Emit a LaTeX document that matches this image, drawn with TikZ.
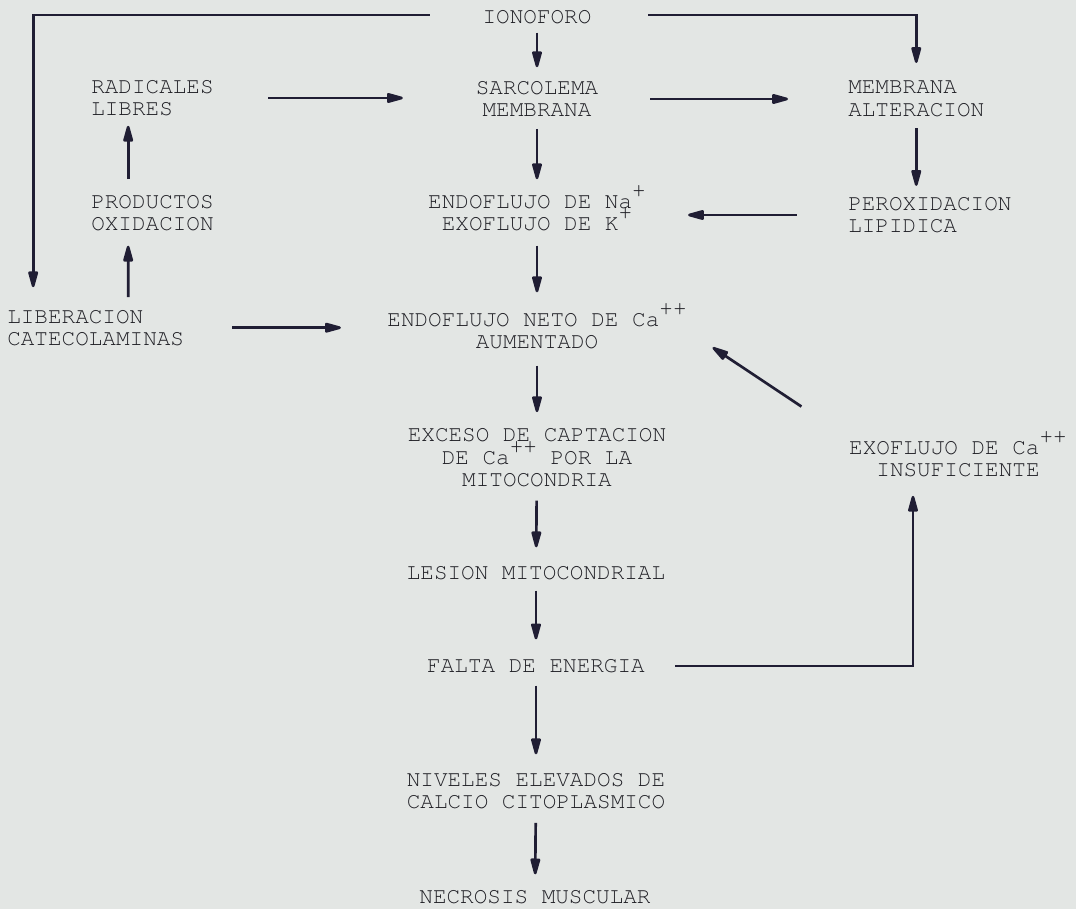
\documentclass[tikz,border=0pt]{standalone}
\usepackage[T1]{fontenc}
\usepackage{courier}
\usepackage{tikz}
\usetikzlibrary{arrows.meta,calc}

\definecolor{paper}{RGB}{227,230,228}
\definecolor{ink}{RGB}{32,32,38}
\definecolor{arrowink}{RGB}{32,30,52}
\newcommand{\chg}[1]{\smash{\raisebox{0.48em}{#1}}}

\tikzset{
  flowtext/.style={inner sep=0pt, text=ink, align=center, font={\ttfamily\fontsize{17}{16.9}\selectfont}},
  flowtextl/.style={flowtext, align=left},
  flowarrow/.style={draw=arrowink, line width=2pt, -{Triangle[length=15pt,width=7.5pt,round]}},
}

\begin{document}
\begin{tikzpicture}[x=0.75pt,y=0.75pt,yscale=-1,xscale=1]
        %set diagram frame: 1076 x 909
        \fill[paper] (0,0) rectangle (1076,909);
        % Text Node
        \node[flowtext] (ion) at (537,17) {IONOFORO};
        \node[flowtext] (sarc) at (537,99) {SARCOLEMA\\MEMBRANA};
        \node[flowtextl, anchor=west] (rad) at (91,98) {RADICALES\\LIBRES};
        \node[flowtextl, anchor=west] (memb) at (848,98.7) {MEMBRANA\\ALTERACION};
        \node[flowtextl, anchor=west] (prod) at (91,213) {PRODUCTOS\\OXIDACION};
        \node[flowtext] (endo) at (537,213) {ENDOFLUJO DE Na\chg{+}\\EXOFLUJO DE K\chg{+}};
        \node[flowtextl, anchor=west] (peroxi) at (848,215) {PEROXIDACION\\LIPIDICA};
        \node[flowtextl, anchor=west] (lib) at (7,327.7) {LIBERACION\\CATECOLAMINAS};
        \node[flowtext] (neto) at (537,331) {ENDOFLUJO NETO DE Ca\chg{++}\\AUMENTADO};
        \node[flowtext] (exceso) at (537,457.5) {EXCESO DE CAPTACION\\DE Ca\chg{++} POR LA\\MITOCONDRIA};
        \node[flowtext] (exo) at (958,458.7) {EXOFLUJO DE Ca\chg{++}\\INSUFICIENTE};
        \node[flowtext] (lesion) at (536,573) {LESION MITOCONDRIAL};
        \node[flowtext] (falta) at (536,666) {FALTA DE ENERGIA};
        \node[flowtext] (niveles) at (536,791) {NIVELES ELEVADOS DE\\CALCIO CITOPLASMICO};
        \node[flowtext] (necro) at (535,897) {NECROSIS MUSCULAR};
        %Straight Lines: main column
        \draw[flowarrow, shorten <=6.4, shorten >=10] (ion) -- (sarc);
        \draw[flowarrow, shorten <=8.5, shorten >=11.5] (sarc) -- (endo);
        \draw[flowarrow, shorten <=10.7, shorten >=15.2] (endo) -- (neto);
        \draw[flowarrow, shorten <=12.2, shorten >=11.7] (neto) -- (exceso);
        \draw[flowarrow, shorten <=10.1, shorten >=13.9] (exceso) -- (lesion);
        \draw[flowarrow, shorten <=7.9, shorten >=14.6] (lesion) -- (falta);
        \draw[flowarrow, shorten <=9.4, shorten >=13.7] (falta) -- (niveles);
        \draw[flowarrow, shorten <=10, shorten >=11.6] (niveles) -- (necro);
        %Straight Lines: side rows
        \draw[flowarrow, shorten <=40.8, shorten >=54.5] (rad.east) -- (rad.east -| sarc.west);
        \draw[flowarrow, shorten <=38.8, shorten >=45] (sarc.east) -- (sarc.east -| memb.west);
        \draw[flowarrow, shorten <=38.3, shorten >=31.5] (peroxi.west) -- (peroxi.west -| endo.east);
        \draw[flowarrow, shorten <=36, shorten >=34.7] (lib.east) -- (lib.east -| neto.west);
        \draw[flowarrow, shorten <=8.7, shorten >=8] (memb.south) -- (memb.south |- peroxi.north);
        \draw[flowarrow, shorten <=11.5, shorten >=7] ($(prod.north)+(-24.3,0)$) -- ($(rad.south)+(-24.3,0)$);
        \draw[flowarrow, shorten <=9, shorten >=10.7] ($(lib.north)+(32.5,0)$) -- ($(prod.south)+(-24.3,0)$);
        %Elbow Lines
        \draw[flowarrow, shorten <=39.4, shorten >=16.5] ($(ion.west)+(0,-2)$) -| ($(lib.north)+(-62.5,0)$);
        \draw[flowarrow, shorten <=42.4, shorten >=13.3] ($(ion.east)+(0,-2)$) -| (memb.north);
        \draw[flowarrow, shorten <=22.5, shorten >=14] (falta.east) -| ($(exo.south)+(-45,0)$);
        \draw[flowarrow] ($(exo.north west)+(-47.5,-33.7)$) -- ($(neto.south east)+(25.8,-2)$);
\end{tikzpicture}
\end{document}
